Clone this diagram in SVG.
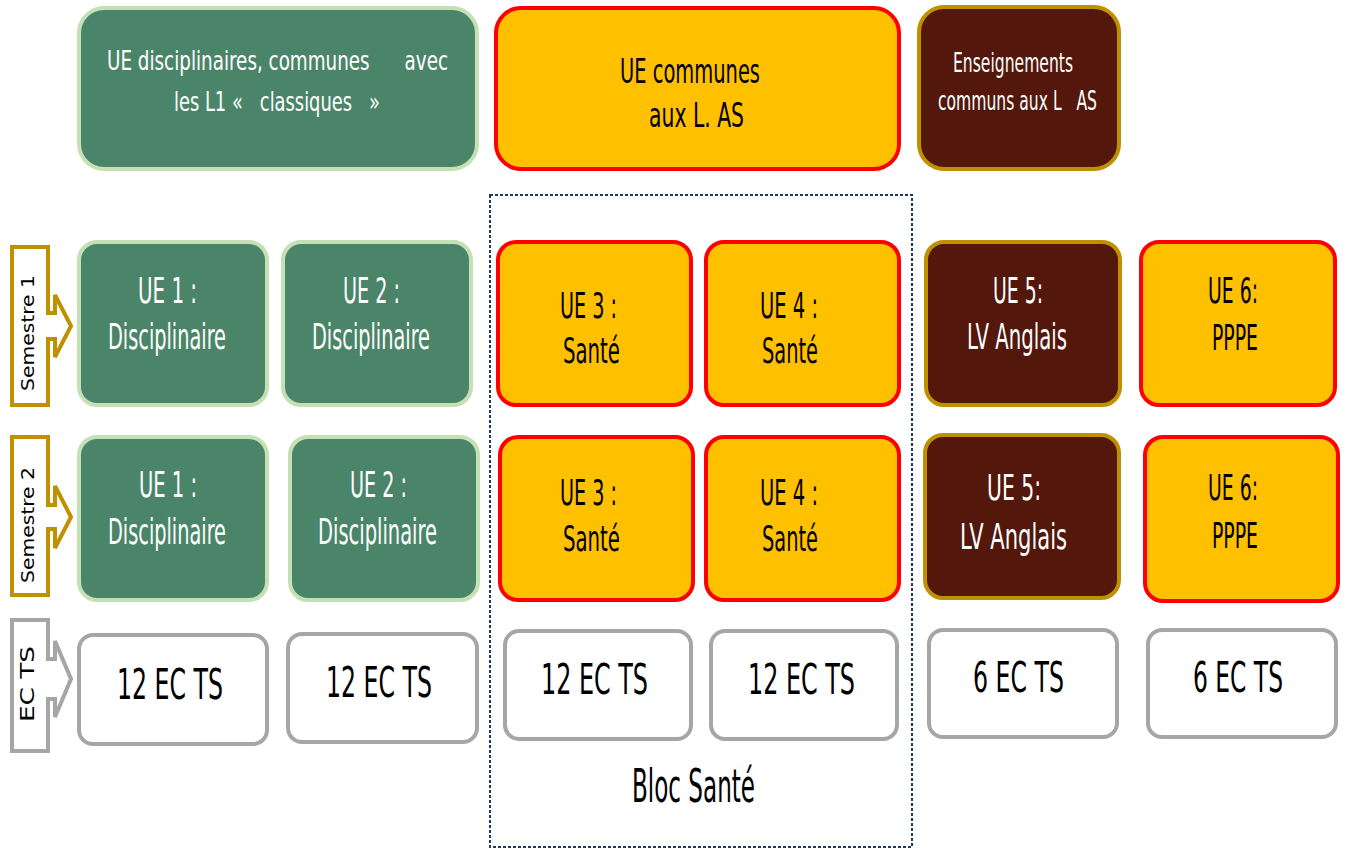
<svg xmlns="http://www.w3.org/2000/svg" width="1346" height="850" viewBox="0 0 1346 850">
<style>
text{font-family:"DejaVu Sans","Liberation Sans",sans-serif;font-stretch:condensed;white-space:pre;}
.w{fill:#ffffff}
.k{fill:#000000}
.g{fill:#4b8569;stroke:#c5e0b4;stroke-width:4}
.o{fill:#ffc000;stroke:#ff0000;stroke-width:4}
.b{fill:#53170b;stroke:#bf9000;stroke-width:4}
.e{fill:#ffffff;stroke:#a6a6a6;stroke-width:4}
.arrS{fill:#ffffff;stroke:#bf9000;stroke-width:4}
.arrE{fill:#ffffff;stroke:#a6a6a6;stroke-width:4}
.s35{font-size:35px}
.s43{font-size:43px}
</style>
<rect width="1346" height="850" fill="#ffffff"/>

<g id="bloc-sante">
<rect x="490" y="195" width="422" height="652" fill="none" stroke="#1f3864" stroke-width="2" stroke-dasharray="3 2"/>
<text class="k" x="632" y="802" font-size="46" textLength="123" lengthAdjust="spacingAndGlyphs">Bloc Santé</text>
</g>

<g id="header-disciplinaires">
<rect class="g" x="79" y="8" width="398" height="161" rx="25"/>
<text class="w" xml:space="preserve" x="107" y="70" font-size="27" textLength="341" lengthAdjust="spacingAndGlyphs">UE disciplinaires, communes      avec</text>
<text class="w" xml:space="preserve" x="174" y="111" font-size="27" textLength="206" lengthAdjust="spacingAndGlyphs">les L1 «   classiques   »</text>
</g>

<g id="header-communes">
<rect class="o" x="496" y="8" width="403" height="161" rx="25"/>
<text class="k" x="620" y="83" font-size="34" textLength="140" lengthAdjust="spacingAndGlyphs">UE communes</text>
<text class="k" x="649" y="127" font-size="34" textLength="95" lengthAdjust="spacingAndGlyphs">aux L. AS</text>
</g>

<g id="header-enseignements">
<rect class="b" x="919" y="7" width="200" height="162" rx="25"/>
<text class="w" x="953" y="72" font-size="27" textLength="120" lengthAdjust="spacingAndGlyphs">Enseignements</text>
<text class="w" xml:space="preserve" x="938" y="110" font-size="27" textLength="159" lengthAdjust="spacingAndGlyphs">communs aux L   AS</text>
</g>

<g id="label-semestre1">
<path class="arrS" d="M12,247 H48 V313 H55 V295 L71,326 L55,357 V339 H48 V405 H12 Z"/>
<text class="k" transform="translate(34,333) rotate(-90)" x="-58" y="0" font-size="18" textLength="116" lengthAdjust="spacingAndGlyphs">Semestre 1</text>
</g>
<g id="label-semestre2">
<path class="arrS" d="M12,437 H48 V505 H55 V486 L71,517 L55,548 V529 H48 V595 H12 Z"/>
<text class="k" transform="translate(34,525) rotate(-90)" x="-58" y="0" font-size="18" textLength="116" lengthAdjust="spacingAndGlyphs">Semestre 2</text>
</g>
<g id="label-ects">
<path class="arrE" d="M12,620 H48 V659 H55 V641 L71,679 L55,717 V699 H48 V751 H12 Z"/>
<text class="k" transform="translate(34,684) rotate(-90)" x="-38" y="0" font-size="19" textLength="76" lengthAdjust="spacingAndGlyphs">EC TS</text>
</g>

<!-- Semestre 1 -->
<g id="s1-ue1">
<rect class="g" x="79" y="242" width="188" height="163" rx="18"/>
<text class="w s35" x="138" y="303" textLength="59" lengthAdjust="spacingAndGlyphs">UE 1 :</text>
<text class="w s35" x="108" y="349" textLength="118" lengthAdjust="spacingAndGlyphs">Disciplinaire</text>
</g>
<g id="s1-ue2">
<rect class="g" x="283" y="242" width="188" height="163" rx="18"/>
<text class="w s35" x="343" y="303" textLength="57" lengthAdjust="spacingAndGlyphs">UE 2 :</text>
<text class="w s35" x="312" y="349" textLength="118" lengthAdjust="spacingAndGlyphs">Disciplinaire</text>
</g>
<g id="s1-ue3">
<rect class="o" x="498" y="242" width="193" height="163" rx="18"/>
<text class="k s35" x="560" y="318" textLength="57" lengthAdjust="spacingAndGlyphs">UE 3 :</text>
<text class="k s35" x="563" y="363" textLength="57" lengthAdjust="spacingAndGlyphs">Santé</text>
</g>
<g id="s1-ue4">
<rect class="o" x="706" y="242" width="193" height="163" rx="18"/>
<text class="k s35" x="760" y="318" textLength="58" lengthAdjust="spacingAndGlyphs">UE 4 :</text>
<text class="k s35" x="762" y="363" textLength="56" lengthAdjust="spacingAndGlyphs">Santé</text>
</g>
<g id="s1-ue5">
<rect class="b" x="926" y="242" width="194" height="163" rx="18"/>
<text class="w s35" x="993" y="303" textLength="50" lengthAdjust="spacingAndGlyphs">UE 5:</text>
<text class="w s35" x="967" y="349" textLength="100" lengthAdjust="spacingAndGlyphs">LV Anglais</text>
</g>
<g id="s1-ue6">
<rect class="o" x="1141" y="242" width="194" height="163" rx="18"/>
<text class="k s35" x="1208" y="303" textLength="50" lengthAdjust="spacingAndGlyphs">UE 6:</text>
<text class="k s35" x="1212" y="350" textLength="46" lengthAdjust="spacingAndGlyphs">PPPE</text>
</g>

<!-- Semestre 2 -->
<g id="s2-ue1">
<rect class="g" x="79" y="437" width="188" height="163" rx="18"/>
<text class="w s35" x="139" y="497" textLength="58" lengthAdjust="spacingAndGlyphs">UE 1 :</text>
<text class="w s35" x="108" y="544" textLength="118" lengthAdjust="spacingAndGlyphs">Disciplinaire</text>
</g>
<g id="s2-ue2">
<rect class="g" x="290" y="437" width="188" height="163" rx="18"/>
<text class="w s35" x="350" y="497" textLength="57" lengthAdjust="spacingAndGlyphs">UE 2 :</text>
<text class="w s35" x="318" y="544" textLength="119" lengthAdjust="spacingAndGlyphs">Disciplinaire</text>
</g>
<g id="s2-ue3">
<rect class="o" x="500" y="437" width="193" height="163" rx="18"/>
<text class="k s35" x="560" y="505" textLength="57" lengthAdjust="spacingAndGlyphs">UE 3 :</text>
<text class="k s35" x="563" y="551" textLength="57" lengthAdjust="spacingAndGlyphs">Santé</text>
</g>
<g id="s2-ue4">
<rect class="o" x="706" y="437" width="193" height="163" rx="18"/>
<text class="k s35" x="760" y="505" textLength="58" lengthAdjust="spacingAndGlyphs">UE 4 :</text>
<text class="k s35" x="762" y="551" textLength="56" lengthAdjust="spacingAndGlyphs">Santé</text>
</g>
<g id="s2-ue5">
<rect class="b" x="925" y="435" width="194" height="163" rx="18"/>
<text class="w s35" x="987" y="500" textLength="54" lengthAdjust="spacingAndGlyphs">UE 5:</text>
<text class="w s35" x="960" y="549" textLength="107" lengthAdjust="spacingAndGlyphs">LV Anglais</text>
</g>
<g id="s2-ue6">
<rect class="o" x="1145" y="437" width="193" height="164" rx="18"/>
<text class="k s35" x="1208" y="500" textLength="50" lengthAdjust="spacingAndGlyphs">UE 6:</text>
<text class="k s35" x="1212" y="548" textLength="46" lengthAdjust="spacingAndGlyphs">PPPE</text>
</g>

<!-- ECTS -->
<g id="ects-1">
<rect class="e" x="79" y="635" width="188" height="109" rx="14"/>
<text class="k s43" x="117" y="699" textLength="106" lengthAdjust="spacingAndGlyphs">12 EC TS</text>
</g>
<g id="ects-2">
<rect class="e" x="288" y="634" width="189" height="108" rx="14"/>
<text class="k s43" x="326" y="697" textLength="106" lengthAdjust="spacingAndGlyphs">12 EC TS</text>
</g>
<g id="ects-3">
<rect class="e" x="505" y="631" width="186" height="108" rx="14"/>
<text class="k s43" x="541" y="694" textLength="107" lengthAdjust="spacingAndGlyphs">12 EC TS</text>
</g>
<g id="ects-4">
<rect class="e" x="711" y="631" width="186" height="108" rx="14"/>
<text class="k s43" x="748" y="694" textLength="107" lengthAdjust="spacingAndGlyphs">12 EC TS</text>
</g>
<g id="ects-5">
<rect class="e" x="929" y="630" width="188" height="107" rx="14"/>
<text class="k s43" x="973" y="692" textLength="91" lengthAdjust="spacingAndGlyphs">6 EC TS</text>
</g>
<g id="ects-6">
<rect class="e" x="1148" y="630" width="188" height="107" rx="14"/>
<text class="k s43" x="1193" y="692" textLength="90" lengthAdjust="spacingAndGlyphs">6 EC TS</text>
</g>

<g id="connectors"></g>
</svg>
